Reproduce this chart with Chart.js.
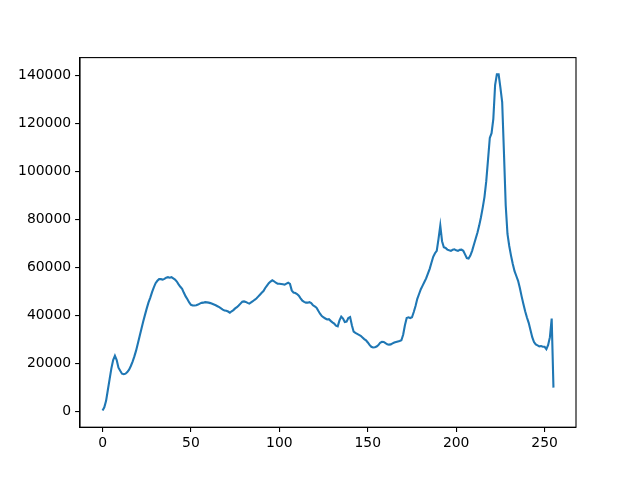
<!DOCTYPE html>
<html>
<head>
<meta charset="utf-8">
<script src="https://cdn.jsdelivr.net/npm/chart.js@4/dist/chart.umd.min.js"></script>
<style>
html,body{margin:0;padding:0;background:#fff;}
canvas{display:block;}
</style>
</head>
<body>
<canvas id="c" width="640" height="480"></canvas>
<script>
const histValues = [
 500,1800,4500,9000,13500,18000,21500,23300,21500,18300,
 17000,15800,15600,15800,16500,17500,19000,20800,23000,25500,
 28500,31500,34500,37500,40300,43000,45500,47500,49800,51800,
 53500,54500,55200,55200,55000,55300,55800,56000,55800,56000,
 55500,55000,54200,53000,52000,51200,49500,48000,46800,45500,
 44500,44200,44200,44300,44600,45000,45300,45400,45600,45500,
 45400,45200,44900,44600,44300,43900,43500,43000,42500,42100,
 42000,41700,41200,41800,42300,43000,43500,44200,45000,45800,
 45900,45700,45300,45000,45500,46000,46600,47100,47900,48700,
 49500,50200,51500,52500,53500,54200,54700,54300,53700,53300,
 53300,53200,53100,52900,53300,53700,53200,50500,49600,49400,
 49000,48300,47200,46200,45700,45400,45400,45600,45200,44300,
 43800,43300,42000,40800,39800,39300,38800,38400,38500,37800,
 37200,36700,35800,35500,38000,39600,38800,37300,37500,39000,
 39400,36000,33300,32800,32400,32000,31600,30900,30200,29700,
 28800,27800,27000,26700,26800,27100,27700,28700,29100,29000,
 28500,28100,27900,28000,28400,28800,29000,29200,29400,29700,
 32000,36000,39000,39300,39000,39300,41500,44000,47000,49000,
 51000,52500,54000,55500,57500,59500,62000,64500,66000,67000,
 72000,77500,71000,68500,68200,67500,67200,67000,67400,67600,
 67200,67000,67400,67500,67000,65500,64000,63800,65000,67000,
 69500,72000,74500,77500,81000,85000,89500,96000,105000,114000,
 116000,122000,136000,140500,140500,135000,129000,108000,86000,74000,
 69000,65000,61500,58500,56500,54500,51500,48000,44800,41800,
 39200,37000,34000,31000,29000,28000,27600,27200,27300,27000,
 27000,26000,27800,31000,38800,10000
];
const binIndex = histValues.map((_, i) => i);
const xTickValues = [0, 50, 100, 150, 200, 250];
const yTickValues = [0, 20000, 40000, 60000, 80000, 100000, 120000, 140000];

const xMinD = Math.min(...binIndex), xMaxD = Math.max(...binIndex);
const yMinD = Math.min(...histValues), yMaxD = Math.max(...histValues);
const xPad = 0.05 * (xMaxD - xMinD), yPad = 0.05 * (yMaxD - yMinD);

const FONT = {family: '"DejaVu Sans", sans-serif', size: 13.9};

const framePlugin = {
  id: 'frame',
  afterDraw(chart) {
    const a = chart.chartArea, ctx = chart.ctx;
    ctx.save();
    ctx.strokeStyle = '#000';
    ctx.lineWidth = 1.1;
    ctx.strokeRect(a.left, a.top, a.right - a.left, a.bottom - a.top);
    ctx.restore();
  }
};

new Chart(document.getElementById('c'), {
  type: 'line',
  data: {
    datasets: [{
      data: binIndex.map((x, i) => ({x: x, y: histValues[i]})),
      borderColor: '#1f77b4',
      borderWidth: 2.1,
      pointRadius: 0,
      fill: false,
      tension: 0
    }]
  },
  options: {
    responsive: false,
    animation: false,
    plugins: {legend: {display: false}, tooltip: {enabled: false}},
    layout: {padding: {left: 0, right: 64, top: 57.6, bottom: 0}},
    scales: {
      x: {
        type: 'linear',
        min: xMinD - xPad,
        max: xMaxD + xPad,
        afterBuildTicks(s) { s.ticks = xTickValues.map(v => ({value: v})); },
        afterFit(s) { s.height = 52.8; },
        grid: {display: true, drawOnChartArea: false, drawTicks: true, tickLength: 4.9, color: '#000', lineWidth: 1.1},
        border: {display: true, color: '#000', width: 1.1},
        ticks: {color: '#000', font: FONT, padding: 3, maxRotation: 0, callback: v => String(v)}
      },
      y: {
        type: 'linear',
        min: yMinD - yPad,
        max: yMaxD + yPad,
        afterBuildTicks(s) { s.ticks = yTickValues.map(v => ({value: v})); },
        afterFit(s) { s.width = 80; },
        grid: {display: true, drawOnChartArea: false, drawTicks: true, tickLength: 4.9, color: '#000', lineWidth: 1.1},
        border: {display: true, color: '#000', width: 1.1},
        ticks: {color: '#000', font: FONT, padding: 4, callback: v => String(v)}
      }
    }
  },
  plugins: [framePlugin]
});
</script>
</body>
</html>
